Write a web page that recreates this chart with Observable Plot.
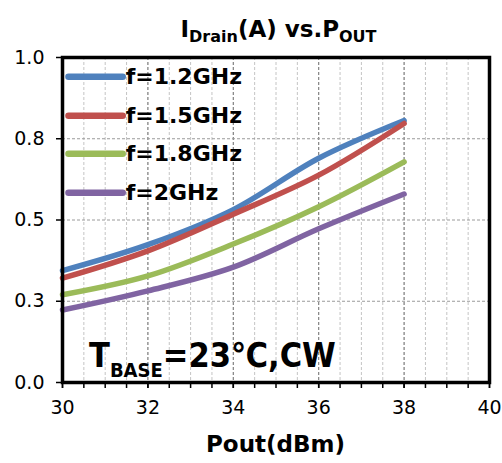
<!DOCTYPE html>
<html>
<head>
<meta charset="utf-8">
<script src="https://cdn.jsdelivr.net/npm/d3@7"></script>
<script src="https://cdn.jsdelivr.net/npm/@observablehq/plot@0.6"></script>
<style>
  body { margin: 0; background: #fff; }
  #chart svg { display: block; }
</style>
</head>
<body>
<div id="chart"></div>
<script>
// Drain current (A) versus output power (dBm) at four carrier frequencies
const pout = [30, 32, 34, 36, 38];
const idrain12 = [0.344, 0.424, 0.532, 0.690, 0.806];
const idrain15 = [0.321, 0.405, 0.518, 0.638, 0.797];
const idrain18 = [0.270, 0.328, 0.426, 0.541, 0.679];
const idrain20 = [0.223, 0.282, 0.355, 0.473, 0.580];

const freqLabels = ["f=1.2GHz", "f=1.5GHz", "f=1.8GHz", "f=2GHz"];
const seriesColors = ["#4F81BD", "#C0504D", "#9BBB59", "#8064A2"];

const yTicks = [0, 0.25, 0.5, 0.75, 1.0];
const yTickLabels = ["0.0", "0.3", "0.5", "0.8", "1.0"];
const xMajorTicks = [30, 32, 34, 36, 38, 40];
const xMinorTicks = d3.range(30, 40.001, 0.5);

const FONT = "'DejaVu Sans', Verdana, sans-serif";
const FONT_NARROW = "'DejaVu Sans Condensed', 'DejaVu Sans', sans-serif";

const series = [idrain12, idrain15, idrain18, idrain20];
const rows = series.flatMap((vals, s) =>
  vals.map((v, i) => ({ pout: pout[i], idrain: v, freq: freqLabels[s] })));

// legend entries sit inside the plot area, top-left
const legendRows = freqLabels.map((freq, i) => ({ freq, ly: [0.941, 0.821, 0.704, 0.584][i] }));

const yLabelOf = new Map(yTicks.map((t, i) => [t, yTickLabels[i]]));

const chart = Plot.plot({
  width: 502,
  height: 463,
  marginTop: 57,
  marginLeft: 62,
  marginRight: 13,
  marginBottom: 81,
  style: { fontFamily: FONT, fontSize: "19px", background: "white", color: "black" },
  x: { domain: [30, 40] },
  y: { domain: [0, 1] },
  color: { domain: freqLabels, range: seriesColors },
  marks: [
    Plot.gridX(xMinorTicks, { stroke: "#c4c4c4", strokeOpacity: 1, strokeDasharray: "3,2" }),
    Plot.gridX(xMajorTicks, { stroke: "#7a7a7a", strokeOpacity: 1, strokeDasharray: "3,2" }),
    Plot.gridY(yTicks, { stroke: "#9a9a9a", strokeOpacity: 1, strokeDasharray: "3,2" }),
    Plot.axisX(xMinorTicks, { tickSize: 6, tickFormat: () => "", label: null, strokeWidth: 1.5 }),
    Plot.axisX(xMajorTicks, { tickSize: 6, tickPadding: 12, label: null, fontSize: 19, strokeWidth: 1.5 }),
    Plot.axisY(yTicks, { tickSize: 6, tickPadding: 12, tickFormat: d => yLabelOf.get(d), label: null, fontSize: 19, strokeWidth: 1.5 }),
    Plot.line(rows, {
      x: "pout", y: "idrain", stroke: "freq", z: "freq",
      curve: "catmull-rom", strokeWidth: 5.5, strokeLinecap: "round", strokeLinejoin: "round"
    }),
    Plot.link(legendRows, {
      x1: 30.14, x2: 31.41, y1: "ly", y2: "ly", stroke: "freq",
      strokeWidth: 6.5, strokeLinecap: "round"
    }),
    Plot.text(legendRows, {
      x: 31.48, y: "ly", text: "freq", textAnchor: "start",
      fontSize: 22, fontWeight: "bold", fill: "black"
    }),
    Plot.frame({ stroke: "black", strokeWidth: 3.5 })
  ]
});

document.getElementById("chart").appendChild(chart);

const svg = d3.select(chart);
const xs = chart.scale("x");

// title with subscripts
const title = svg.append("text")
  .attr("x", (xs.apply(30) + xs.apply(40)) / 2 + 3)
  .attr("y", 37)
  .attr("text-anchor", "middle")
  .attr("font-family", FONT)
  .attr("font-weight", "bold")
  .attr("fill", "black");
title.append("tspan").attr("font-size", 23).text("I");
title.append("tspan").attr("font-size", 16).attr("dy", 5).text("Drain");
title.append("tspan").attr("font-size", 23).attr("dy", -5).text("(A) vs.P");
title.append("tspan").attr("font-size", 16).attr("dy", 5).text("OUT");

// x axis title
svg.append("text")
  .attr("x", (xs.apply(30) + xs.apply(40)) / 2)
  .attr("y", 452)
  .attr("text-anchor", "middle")
  .attr("font-family", FONT)
  .attr("font-weight", "bold")
  .attr("font-size", 23)
  .attr("fill", "black")
  .text("Pout(dBm)");

// test condition note
const note = svg.append("text")
  .attr("x", 89)
  .attr("y", 367)
  .attr("text-anchor", "start")
  .attr("font-family", FONT_NARROW)
  .attr("font-stretch", "condensed")
  .attr("font-weight", "bold")
  .attr("fill", "black");
note.append("tspan").attr("font-size", 34).text("T");
note.append("tspan").attr("font-size", 20).attr("dy", 10).text("BASE");
note.append("tspan").attr("font-size", 34).attr("dy", -10).text("=23℃,CW");
</script>
</body>
</html>
